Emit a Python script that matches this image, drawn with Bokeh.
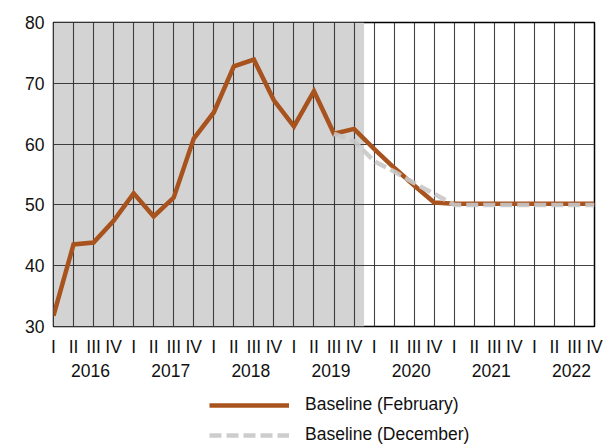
from bokeh.plotting import figure
from bokeh.layouts import column
from bokeh.models import (FixedTicker, LinearAxis, Range1d, BoxAnnotation,
                          Legend, LegendItem)
from bokeh.embed import file_html
from bokeh.resources import INLINE

# ---- data ----
years = [2016, 2017, 2018, 2019, 2020, 2021, 2022]
quarter_names = ["I", "II", "III", "IV"]
quarters = list(range(len(years) * 4))          # 2016 Q1 ... 2022 Q4

baseline_feb = [31.8, 43.5, 43.8, 47.4,
                51.9, 48.1, 51.2, 60.9,
                65.2, 72.8, 73.9, 67.2,
                62.9, 68.7, 61.7, 62.5,
                59.2, 56.1, 53.2, 50.4,
                50.2, 50.2, 50.2, 50.2,
                50.2, 50.2, 50.2, 50.2]

dec_quarters = quarters[14:]                      # from 2019 Q3
baseline_dec = [61.7, 60.5,
                57.2, 55.5, 53.6, 51.8,
                50.0, 50.0, 50.0, 50.0,
                50.0, 50.0, 50.0, 50.0]

last_history_quarter = 15                         # 2019 Q4
y_ticks = [30, 40, 50, 60, 70, 80]
series_labels = ["Baseline (February)", "Baseline (December)"]

# ---- style ----
FONT = "Liberation Sans"
FS = "17.5px"
ORANGE = "#a8531e"
GREY = "#c8c8c8"
SHADE = "#d3d3d3"
YEAR_LABEL_OFFSET = 1.85
FEB_STYLE = dict(color=ORANGE, line_width=4.5, line_join="miter")
DEC_STYLE = dict(color=GREY, line_width=4.5, line_dash="12 5", line_alpha=0.9)

p = figure(width=603, height=390,
           x_range=Range1d(quarters[0], quarters[-1]),
           y_range=Range1d(y_ticks[0], y_ticks[-1]),
           output_backend="svg", toolbar_location=None,
           min_border_left=53, min_border_top=22,
           min_border_right=9, min_border_bottom=64)

p.outline_line_color = "black"
p.outline_line_width = 1.5
p.outline_line_alpha = 1

# shaded history
shade = BoxAnnotation(right=last_history_quarter + 0.5, fill_color=SHADE,
                      fill_alpha=1, line_alpha=0, level="image")
p.add_layout(shade)

# grids
p.xgrid.ticker = FixedTicker(ticks=quarters)
p.ygrid.ticker = FixedTicker(ticks=y_ticks)
for g in (p.xgrid, p.ygrid):
    g.grid_line_color = "#222222"
    g.grid_line_width = 1.1
    g.grid_line_alpha = 0.85

# quarter axis
xa = p.xaxis[0]
xa.ticker = FixedTicker(ticks=quarters)
xa.major_label_overrides = {q: quarter_names[q % 4] for q in quarters}

# year axis on an extra range where each year is an integer
p.extra_x_ranges = {"years": Range1d(
    years[0] + (quarters[0] - YEAR_LABEL_OFFSET) / 4,
    years[0] + (quarters[-1] - YEAR_LABEL_OFFSET) / 4)}
ya2 = LinearAxis(x_range_name="years", ticker=FixedTicker(ticks=years))
p.add_layout(ya2, "below")

yax = p.yaxis[0]
yax.ticker = FixedTicker(ticks=y_ticks)

for ax, standoff in ((xa, 10), (ya2, 4), (yax, 9)):
    ax.axis_line_color = None
    ax.major_tick_line_color = None
    ax.minor_tick_line_color = None
    ax.major_tick_out = 0
    ax.major_tick_in = 0
    ax.minor_tick_out = 0
    ax.major_label_text_font = FONT
    ax.major_label_text_font_size = FS
    ax.major_label_text_color = "#111111"
    ax.major_label_standoff = standoff

# lines
p.line(quarters, baseline_feb, **FEB_STYLE)
p.line(dec_quarters, baseline_dec, **DEC_STYLE)

# ---- legend figure below ----
lg = figure(width=603, height=56, x_range=Range1d(1000, 1001),
            y_range=Range1d(1000, 1001), output_backend="svg",
            toolbar_location=None, min_border=0,
            x_axis_location=None, y_axis_location=None)
lg.outline_line_color = None
lg.grid.visible = False
l1 = lg.line(quarters, baseline_feb, **FEB_STYLE)
l2 = lg.line(dec_quarters, baseline_dec, **DEC_STYLE)

legend = Legend(items=[LegendItem(label=series_labels[0], renderers=[l1]),
                       LegendItem(label=series_labels[1], renderers=[l2])],
                location=(156, 1), orientation="vertical",
                glyph_width=80, glyph_height=20, label_standoff=16,
                spacing=9, padding=0, margin=0,
                border_line_alpha=0, background_fill_alpha=0,
                label_text_font=FONT, label_text_font_size=FS,
                label_text_color="#111111")
lg.add_layout(legend)

layout = column(p, lg, spacing=0)
open("out.html", "w").write(file_html(layout, INLINE))
